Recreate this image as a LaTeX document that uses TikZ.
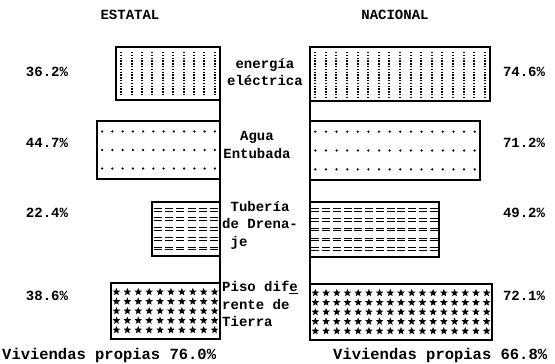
\documentclass[tikz,border=0pt]{standalone}
\usepackage{fontspec}
\setmainfont{Liberation Mono}
\newfontfamily\tw{Liberation Mono}
\usetikzlibrary{shapes.geometric}
\tikzset{
  bar/.style={draw=black, line width=1.2pt},
  axisline/.style={draw=black, line width=1.2pt},
  lbl/.style={font=\tw\bfseries\fontsize{14}{17.5}\selectfont, inner sep=0pt},
  big/.style={font=\tw\bfseries\fontsize{15.5}{18}\selectfont, inner sep=0pt},
  side/.style={font=\tw\bfseries\fontsize{14}{17.5}\selectfont, inner sep=0pt, align=left, anchor=north west},
  vdot/.style={line width=2pt, dash pattern=on 1.4pt off 1.4pt},
  starmark/.style={star, star points=5, star point ratio=2.3, fill=black, inner sep=0pt, minimum size=8pt},
}
% vertical dotted columns: xl xr yt yb n
\newcommand{\vcols}[5]{%
  \pgfmathsetmacro{\sp}{(#2-#1)/#5}%
  \foreach \i in {1,...,#5}{\draw[vdot] ({#1+(\i-0.5)*\sp},#3+5) -- ({#1+(\i-0.5)*\sp},#4-4);}}
% dot rows: xl xr yt yb n
\newcommand{\drows}[5]{%
  \pgfmathsetmacro{\sp}{(#2-#1)/#5}%
  \foreach \r in {0.18,0.5,0.82}{\foreach \i in {1,...,#5}{\fill ({#1+(\i-0.5)*\sp},{#3+\r*(#4-#3)}) circle (1.3pt);}}}
% double dash rows: xl xr yt yb n
\newcommand{\eqrows}[5]{%
  \pgfmathsetmacro{\sp}{(#2-#1)/#5}%
  \foreach \r in {0.14,0.32,0.5,0.68,0.86}{\foreach \i in {1,...,#5}{%
    \draw[line width=0.9pt] ({#1+(\i-0.5)*\sp-3.9},{#3+\r*(#4-#3)-1.4}) -- ++(7.8,0);
    \draw[line width=0.9pt] ({#1+(\i-0.5)*\sp-3.9},{#3+\r*(#4-#3)+1.4}) -- ++(7.8,0);}}}
% star rows: xl xr yt yb n
\newcommand{\strows}[5]{%
  \pgfmathsetmacro{\sp}{(#2-#1)/#5}%
  \foreach \r in {0.16,0.33,0.5,0.67,0.84}{\foreach \i in {1,...,#5}{%
    \node[starmark] at ({#1+(\i-0.5)*\sp},{#3+\r*(#4-#3)}) {};}}}
\begin{document}
\begin{tikzpicture}[x=1pt,y=-1pt]
\useasboundingbox (0,0) rectangle (555,364);
% axes
\coordinate (la1) at (220,47); \coordinate (la2) at (220,339);
\coordinate (ra1) at (310,47); \coordinate (ra2) at (310,339);
\draw[axisline] (la1) -- (la2);
\draw[axisline] (ra1) -- (ra2);
% bars left
\draw[bar] (116,47) rectangle (220,100);
\draw[bar] (97,121) rectangle (220,179);
\draw[bar] (152,202) rectangle (220,256);
\draw[bar] (111,283) rectangle (220,339);
% bars right
\draw[bar] (310,47) rectangle (490,101);
\draw[bar] (310,121) rectangle (480,180);
\draw[bar] (310,202) rectangle (439,257);
\draw[bar] (310,284) rectangle (492,340);
% patterns
\vcols{116}{220}{47}{100}{10}
\vcols{310}{490}{47}{101}{17}
\drows{97}{220}{121}{179}{12}
\drows{310}{480}{121}{180}{16}
\eqrows{152}{220}{202}{256}{6}
\eqrows{310}{439}{202}{257}{12}
\strows{111}{220}{283}{339}{10}
\strows{310}{492}{284}{340}{17}
% titles
\node[lbl] (t1) at (130,15) {ESTATAL};
\node[lbl] (t2) at (395,15) {NACIONAL};
% left percents
\node[lbl] (p1) at (47,72) {36.2\%};
\node[lbl] (p2) at (47,143) {44.7\%};
\node[lbl] (p3) at (47,213) {22.4\%};
\node[lbl] (p4) at (47,296) {38.6\%};
% right percents
\node[lbl] (q1) at (524,72) {74.6\%};
\node[lbl] (q2) at (524,143) {71.2\%};
\node[lbl] (q3) at (524,213) {49.2\%};
\node[lbl] (q4) at (524,296) {72.1\%};
% middle labels
\node[lbl, align=center] (m1) at (265,72) {energía\\eléctrica};
\node[lbl, align=center] (m2) at (257,145) {Agua\\Entubada};
\node[side] (m3) at (222,201) {\ Tubería\\de Drena-\\\ je};
\node[side] (m4) at (222,281) {Piso dif\underline{e}\\rente de\\Tierra};
% bottom
\node[big, anchor=west] (b1) at (2,355) {Viviendas propias 76.0\%};
\node[big, anchor=west] (b2) at (333,355) {Viviendas propias 66.8\%};
\end{tikzpicture}
\end{document}
